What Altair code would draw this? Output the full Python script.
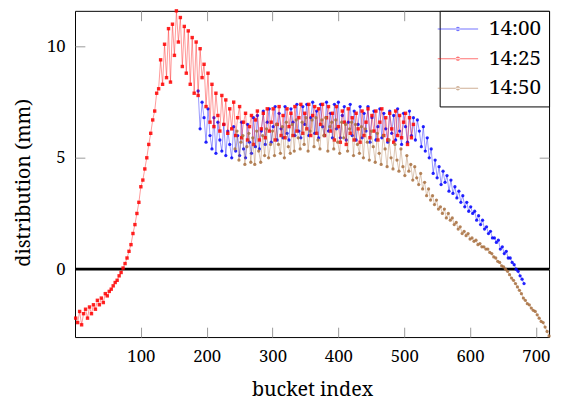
import altair as alt
import pandas as pd

FONT = "Noto Serif"

series = ["14:00", "14:25", "14:50"]
colors = ["#0000ff", "#ff0000", "#a87040"]
shapes = ["circle", "square", "circle"]

x_ticks = [100, 200, 300, 400, 500, 600, 700]
y_ticks = [0, 5, 10]

# 14:00 (blue), buckets 187..682 every 3
x_1400 = list(range(187, 683, 3))
y_1400 = [
    8.0, 6.3, 7.5, 6.8, 5.7, 7.2, 6.0, 5.4, 6.8, 5.2,
    6.6, 5.8, 5.3, 6.5, 5.1, 6.2, 5.6, 5.0, 6.4, 5.3,
    6.0, 5.1, 6.6, 5.4, 5.0, 6.5, 5.7, 5.2, 6.8, 5.5,
    6.9, 5.4, 6.2, 7.1, 5.6, 6.6, 7.2, 5.7, 6.4, 7.3,
    5.8, 7.0, 6.3, 5.9, 7.3, 6.1, 5.8, 7.2, 6.6, 6.0,
    7.4, 6.2, 5.9, 7.3, 6.5, 7.4, 6.0, 6.8, 7.5, 6.1,
    7.1, 5.9, 7.4, 6.4, 6.0, 7.5, 6.2, 7.0, 5.9, 7.4,
    6.3, 7.5, 5.9, 6.9, 7.3, 5.8, 6.6, 7.4, 6.0, 7.1,
    5.8, 6.5, 7.3, 5.9, 7.0, 6.2, 7.3, 5.7, 6.8, 7.1,
    5.8, 6.4, 7.2, 5.9, 7.0, 6.3, 5.7, 7.1, 6.1, 6.9,
    5.8, 7.2, 6.2, 5.6, 7.0, 6.4, 5.7, 7.1, 6.0, 6.8,
    5.8, 6.7, 6.2, 5.5, 6.4, 5.3, 5.9, 5.0, 5.4, 4.3,
    4.9, 4.1, 4.6, 3.8, 4.4, 3.9, 4.2, 3.5, 4.0, 3.4,
    3.7, 3.2, 3.5, 3.0, 3.3, 2.8, 3.0, 2.6, 2.8, 2.5,
    2.6, 2.2, 2.4, 2.0, 2.2, 1.8, 1.9, 1.6, 1.7, 1.4,
    1.4, 1.2, 1.3, 0.9, 1.0, 0.7, 0.8, 0.5, 0.5, 0.3,
    0.2, 0.0, -0.1, -0.3, -0.45, -0.65,
]

# 14:25 (red), buckets 1..514 every 3
x_1425 = list(range(1, 515, 3))
y_1425 = [
    -2.2, -2.4, -1.9, -2.5, -2.0, -1.8, -2.2, -1.7, -2.0, -1.6,
    -1.8, -1.4, -1.6, -1.3, -1.5, -1.1, -1.2, -1.0, -0.9, -0.75,
    -0.6, -0.5, -0.3, -0.15, 0.05, 0.25, 0.5, 0.8, 1.1, 1.6,
    2.0, 2.5, 3.0, 3.7, 4.0, 4.5, 5.0, 5.6, 6.1, 6.7,
    7.1, 7.9, 8.1, 9.4, 8.3, 10.1, 8.6, 10.8, 8.4, 11.0,
    9.6, 11.6, 10.2, 11.3, 9.1, 10.9, 8.8, 10.7, 8.3, 10.4,
    7.9, 10.2, 7.8, 9.9, 8.6, 9.2, 7.3, 8.8, 6.6, 8.3,
    6.4, 7.9, 6.9, 6.2, 7.8, 6.5, 7.6, 6.1, 7.2, 6.3,
    7.5, 6.0, 6.8, 7.3, 5.9, 6.6, 7.0, 5.8, 6.4, 6.9,
    5.6, 6.7, 7.1, 5.8, 6.3, 7.0, 5.9, 7.2, 6.2, 6.6,
    7.2, 5.8, 6.5, 7.3, 6.0, 6.9, 5.9, 7.2, 6.4, 7.0,
    6.0, 7.3, 6.2, 6.8, 7.4, 6.1, 7.0, 6.3, 7.4, 6.0,
    6.9, 7.3, 6.1, 7.2, 6.5, 7.4, 6.0, 6.8, 7.3, 6.2,
    7.0, 5.8, 7.3, 6.4, 5.7, 7.1, 6.6, 5.6, 7.2, 6.1,
    6.8, 5.8, 7.0, 6.3, 5.7, 7.1, 6.0, 6.6, 7.2, 5.9,
    6.9, 6.2, 7.1, 5.8, 6.6, 7.2, 6.0, 6.8, 5.8, 7.0,
    6.3, 5.7, 7.1, 6.0, 6.9, 5.9, 6.6, 7.0, 5.6, 6.8,
    5.9, 6.5,
]

# 14:50 (brown), buckets 243..720 every 3
x_1450 = list(range(243, 721, 3))
y_1450 = [
    5.4, 6.2, 4.9, 5.7, 6.0, 4.7, 5.5, 6.1, 4.8, 5.9,
    4.7, 6.2, 5.3, 4.8, 6.0, 5.1, 6.3, 5.0, 5.6, 6.2,
    5.1, 6.5, 5.6, 5.2, 6.4, 5.0, 6.6, 5.5, 5.2, 6.5,
    5.3, 6.7, 5.9, 5.4, 6.6, 5.6, 6.8, 5.3, 6.2, 6.7,
    5.5, 6.8, 5.8, 5.4, 6.7, 6.0, 6.8, 5.3, 6.4, 6.6,
    5.4, 6.7, 5.7, 5.2, 6.6, 5.9, 6.5, 5.3, 6.3, 6.6,
    5.1, 6.5, 5.6, 5.2, 6.4, 5.0, 6.3, 5.7, 4.9, 6.2,
    5.5, 4.8, 6.1, 5.2, 4.7, 6.0, 5.4, 4.6, 5.8, 5.0,
    4.5, 5.6, 4.9, 4.4, 5.4, 4.6, 4.2, 5.1, 4.4, 4.7,
    4.0, 4.6, 4.1, 3.8, 4.3, 3.6, 3.9, 3.3, 3.6, 3.1,
    3.3, 2.9, 3.1, 2.7, 2.8, 2.5, 2.7, 2.3, 2.5, 2.2,
    2.3, 2.0, 2.1, 1.8, 1.9, 1.6, 1.7, 1.5, 1.6, 1.35,
    1.4, 1.25, 1.3, 1.1, 1.15, 1.0, 1.0, 0.9, 0.9, 0.75,
    0.7, 0.55, 0.5, 0.35, 0.3, 0.15, 0.1, 0.0, -0.1, -0.25,
    -0.4, -0.5, -0.65, -0.8, -0.95, -1.1, -1.3, -1.4, -1.55, -1.6,
    -1.75, -1.85, -1.9, -2.05, -2.2, -2.35, -2.4, -2.6, -2.8, -3.0,
]

xs = [x_1400, x_1425, x_1450]
ys = [y_1400, y_1425, y_1450]

xscale = alt.Scale(domain=[0, 720], nice=False, zero=False)
yscale = alt.Scale(domain=[-3.05, 11.6], nice=False, zero=False)
cscale = alt.Scale(domain=series, range=colors)

ax_bottom = alt.Axis(orient="bottom", values=x_ticks, format="d", offset=-10,
                     tickSize=10, domain=False, labelPadding=12,
                     labelFont=FONT, titleFont=FONT,
                     title="bucket index", titlePadding=15, grid=False)
ax_top = alt.Axis(orient="top", values=x_ticks, offset=-10, tickSize=10,
                  domain=False, labels=False, title=None, grid=False)
ax_left = alt.Axis(orient="left", values=y_ticks, format="d", offset=-10,
                   tickSize=10, domain=False, labelPadding=10,
                   labelFont=FONT, titleFont=FONT, titleY=174,
                   title="distribution (mm)", titlePadding=13, grid=False)
ax_right = alt.Axis(orient="right", values=y_ticks, offset=-10, tickSize=10,
                    domain=False, labels=False, title=None, grid=False)

LEG_PATH = ("M-4.1,-0.1H4.1V0.1H-4.1Z"
            "M-0.45,0A0.45,0.45 0 1,0 0.45,0A0.45,0.45 0 1,0 -0.45,0Z")

legend = alt.Legend(title=None, orient="top-right", offset=0, padding=8,
                    strokeColor="black", fillColor="white", cornerRadius=0,
                    labelFont=FONT, labelFontSize=21, labelColor="black",
                    symbolType=LEG_PATH, symbolSize=100, symbolStrokeWidth=0,
                    symbolOpacity=0.55, rowPadding=8, labelOffset=21,
                    labelLimit=300)

zero = alt.Chart(pd.DataFrame({"y": [0]})).mark_rule(
    color="black", strokeWidth=3
).encode(y=alt.Y("y:Q", scale=yscale, axis=ax_left))

layers = [zero]
for i, name in enumerate(series):
    df = pd.DataFrame({"x": xs[i], "y": ys[i], "series": name})
    line = alt.Chart(df).mark_line(
        color=colors[i], strokeWidth=0.8, opacity=0.5
    ).encode(
        x=alt.X("x:Q", scale=xscale, axis=ax_bottom if i == 0 else None),
        y=alt.Y("y:Q", scale=yscale, axis=None),
        order="x:Q",
    )
    pts = alt.Chart(df).mark_point(
        filled=True, shape=shapes[i], size=12 if shapes[i] == "square" else 11,
        opacity=0.85, strokeWidth=0
    ).encode(
        x=alt.X("x:Q", scale=xscale, axis=ax_top if i == 0 else None),
        y=alt.Y("y:Q", scale=yscale, axis=ax_right if i == 0 else None),
        color=alt.Color("series:N", scale=cscale, legend=legend),
    )
    layers += [line, pts]

chart = alt.layer(*layers).properties(
    width=481, height=331,
    autosize=alt.AutoSizeParams(type="none"),
    padding={"left": 68, "top": 0, "right": 4, "bottom": 62},
).configure_view(
    stroke="black", strokeWidth=1
).configure_axis(
    labelFont=FONT, titleFont=FONT, labelFontSize=17, titleFontSize=20,
    titleFontWeight="normal", labelColor="black", titleColor="black",
    tickColor="#999999", tickWidth=1,
)

chart.save("out.html", embed_options={"renderer": "svg", "actions": False})
